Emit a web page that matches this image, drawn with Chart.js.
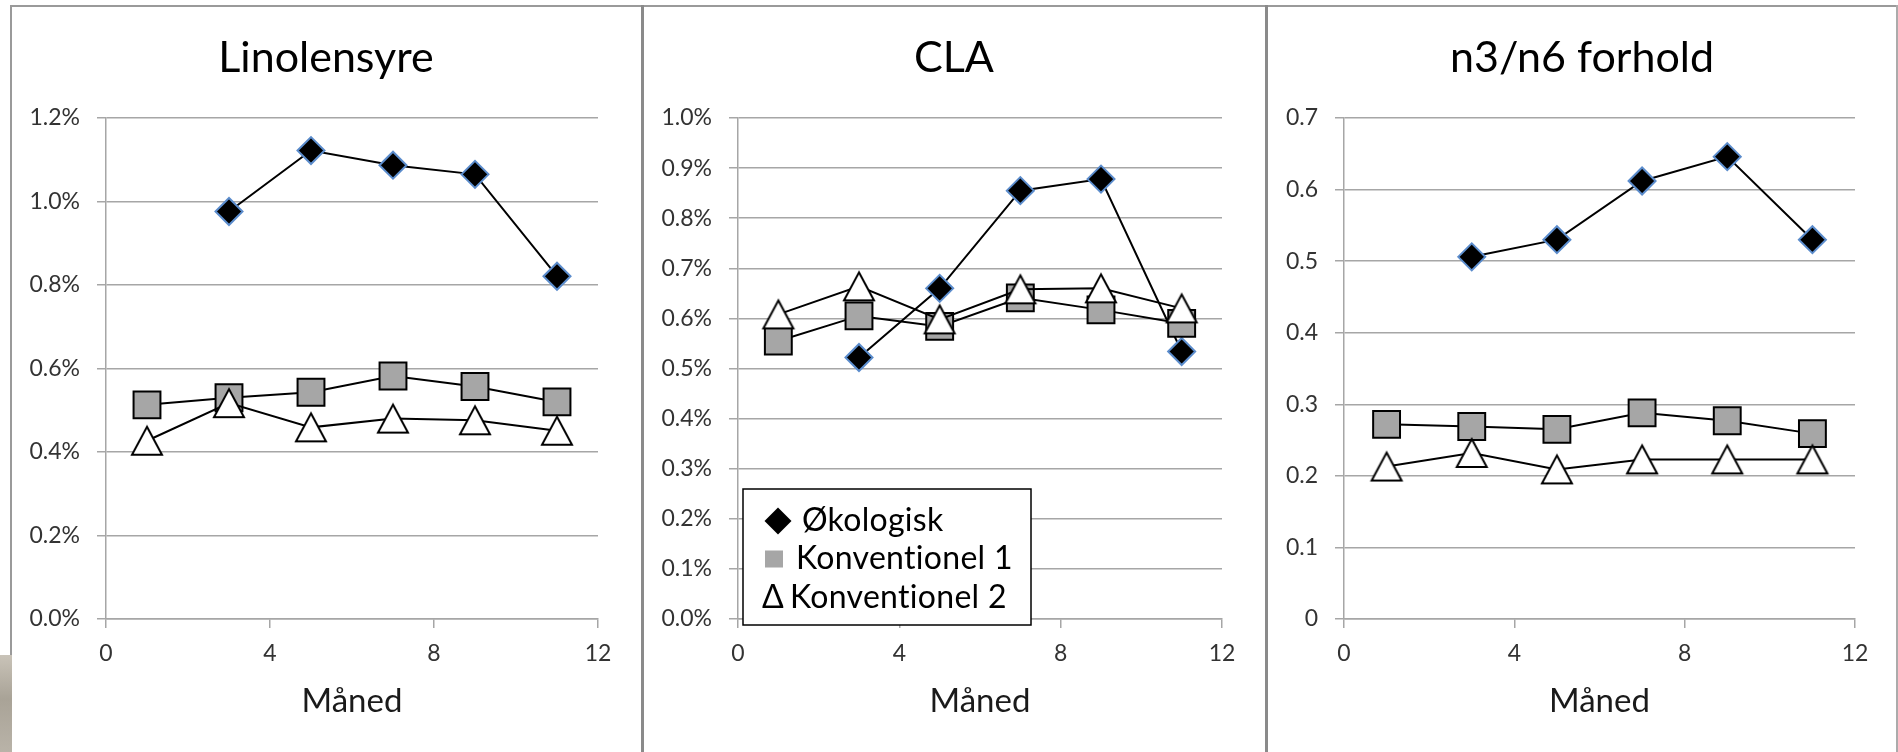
<!DOCTYPE html>
<html>
<head>
<meta charset="utf-8">
<title>Fedtsyrer i mælk</title>
<script src="https://cdn.jsdelivr.net/npm/chart.js@4.4.1/dist/chart.umd.min.js"></script>
<style>
  html, body { margin: 0; padding: 0; background: #fff; }
  body { width: 1898px; height: 752px; position: relative; overflow: hidden; }
  canvas { position: absolute; top: 0; }
  .rule { position: absolute; background: #9a9a9a; }
  .photo { position: absolute; left: 0; top: 655px; width: 12px; height: 97px;
           background: linear-gradient(180deg, #c9c3b8 0%, #a9a397 45%, #b9b3a8 100%); }
</style>
</head>
<body>
<!-- panel frames -->
<div class="rule" style="left:10px;top:5px;width:1888px;height:2px"></div>
<div class="rule" style="left:10px;top:5px;width:2px;height:650px"></div>
<div class="photo"></div>
<div class="rule" style="left:641px;top:5px;width:3px;height:747px;background:#8a8a8a"></div>
<div class="rule" style="left:1265px;top:5px;width:3px;height:747px;background:#8a8a8a"></div>
<div class="rule" style="left:1896px;top:5px;width:2px;height:747px;background:#ababab"></div>

<canvas id="c1" width="628" height="752" style="left:12px"></canvas>
<canvas id="c2" width="620" height="752" style="left:644px"></canvas>
<canvas id="c3" width="628" height="752" style="left:1268px"></canvas>

<script>
// Sampling months
const months = [1, 3, 5, 7, 9, 11];
const seriesNames = ['Økologisk', 'Konventionel 1', 'Konventionel 2'];
const panelTitles = ['Linolensyre', 'CLA', 'n3/n6 forhold'];
const axisTitle = 'Måned';

// Linolensyre, % of fat
const linolenOko   = [null, 0.976, 1.122, 1.087, 1.065, 0.821];
const linolenKonv1 = [0.513, 0.530, 0.543, 0.582, 0.557, 0.520];
const linolenKonv2 = [0.427, 0.517, 0.459, 0.480, 0.476, 0.451];

// CLA, % of fat
const claOko   = [null, 0.522, 0.660, 0.855, 0.878, 0.534];
const claKonv1 = [0.555, 0.605, 0.584, 0.641, 0.617, 0.590];
const claKonv2 = [0.608, 0.664, 0.598, 0.658, 0.660, 0.620];

// n3/n6 ratio
const ratioOko   = [null, 0.506, 0.530, 0.612, 0.646, 0.530];
const ratioKonv1 = [0.272, 0.269, 0.265, 0.288, 0.277, 0.259];
const ratioKonv2 = [0.213, 0.232, 0.209, 0.223, 0.223, 0.223];

// Value axis tick settings
const linolenTicks = { min: 0, max: 1.2, step: 0.2 };
const claTicks     = { min: 0, max: 1.0, step: 0.1 };
const ratioTicks   = { min: 0, max: 0.7, step: 0.1 };
const monthTicks   = { min: 0, max: 12, step: 4 };

const pct = v => v.toFixed(1) + '%';
const plain = v => (Math.abs(v) < 1e-9 ? '0' : v.toFixed(1));

const FONT = 'Lato, "Open Sans", sans-serif';
Chart.defaults.font.family = FONT;
Chart.defaults.animation = false;

const GRID = '#a6a6a6';

// Open triangle marker centred on its bounding box
function triangleMarker(w, h, lw) {
  const c = document.createElement('canvas');
  c.width = Math.ceil(w + 10);
  c.height = Math.ceil(h + 10);
  const ctx = c.getContext('2d');
  const cx = c.width / 2, cy = c.height / 2;
  ctx.beginPath();
  ctx.moveTo(cx, cy - h / 2);
  ctx.lineTo(cx + w / 2, cy + h / 2);
  ctx.lineTo(cx - w / 2, cy + h / 2);
  ctx.closePath();
  ctx.fillStyle = '#fff';
  ctx.fill();
  ctx.lineWidth = lw;
  ctx.lineJoin = 'miter';
  ctx.strokeStyle = '#000';
  ctx.stroke();
  return c;
}
const triImg = triangleMarker(30, 28, 2);

function points(vals) {
  return months.map((m, i) => ({ x: m, y: vals[i] }));
}

function datasets(oko, konv1, konv2) {
  return [
    {
      label: seriesNames[2], data: points(konv2), order: 0,
      borderColor: '#000', borderWidth: 2,
      pointStyle: triImg, pointRadius: 15,
      clip: false
    },
    {
      label: seriesNames[1], data: points(konv1), order: 1,
      borderColor: '#000', borderWidth: 2,
      pointStyle: 'rect', pointRadius: 19,
      pointBackgroundColor: '#a6a6a6', pointBorderColor: '#000', pointBorderWidth: 2,
      clip: false
    },
    {
      label: seriesNames[0], data: points(oko), order: 2,
      borderColor: '#000', borderWidth: 2,
      pointStyle: 'rectRot', pointRadius: 13.5,
      pointBackgroundColor: '#000', pointBorderColor: '#5b8ccc', pointBorderWidth: 2,
      clip: false
    }
  ];
}

// Panel heading, centred over the whole panel
const panelHeading = {
  id: 'panelHeading',
  afterDraw(chart, args, opts) {
    const ctx = chart.ctx;
    ctx.save();
    ctx.fillStyle = '#000';
    ctx.font = '43px ' + FONT;
    ctx.textAlign = 'center';
    ctx.textBaseline = 'middle';
    ctx.fillText(opts.text, chart.width / 2, 58);
    ctx.restore();
  }
};

// Boxed legend inside the CLA plot
const legendBox = {
  id: 'legendBox',
  afterDatasetsDraw(chart) {
    const ca = chart.chartArea, ctx = chart.ctx;
    const x0 = ca.left + 5, y0 = ca.bottom - 130, w = 288, h = 136;
    const rows = [y0 + 32, y0 + 70, y0 + 109];
    ctx.save();
    ctx.fillStyle = '#fff';
    ctx.fillRect(x0, y0, w, h);
    ctx.strokeStyle = '#000';
    ctx.lineWidth = 1.5;
    ctx.strokeRect(x0, y0, w, h);

    // symbols
    ctx.fillStyle = '#000';
    ctx.beginPath();
    const dx = x0 + 35, dy = rows[0], r = 13.5;
    ctx.moveTo(dx, dy - r); ctx.lineTo(dx + r, dy); ctx.lineTo(dx, dy + r); ctx.lineTo(dx - r, dy);
    ctx.closePath(); ctx.fill();
    ctx.fillStyle = '#a6a6a6';
    ctx.fillRect(x0 + 22, rows[1] - 8.5, 18, 17);

    ctx.fillStyle = '#000';
    ctx.font = '32px ' + FONT;
    ctx.letterSpacing = '0.3px';
    ctx.textBaseline = 'middle';
    ctx.textAlign = 'left';
    ctx.fillText('Δ', x0 + 19, rows[2]);
    ctx.fillText(seriesNames[0], x0 + 59, rows[0]);
    ctx.fillText(seriesNames[1], x0 + 53, rows[1]);
    ctx.fillText(seriesNames[2], x0 + 47, rows[2]);
    ctx.restore();
  }
};

function panel(id, title, sets, yt, fmt, yWidth, padL, padR, extraPlugins) {
  new Chart(document.getElementById(id), {
    type: 'line',
    data: { datasets: sets },
    options: {
      responsive: false,
      animation: false,
      events: [],
      layout: { padding: { left: padL, right: padR, top: 118, bottom: 0 } },
      plugins: {
        legend: { display: false },
        tooltip: { enabled: false },
        title: { display: false },
        panelHeading: { text: title }
      },
      scales: {
        x: {
          type: 'linear', min: monthTicks.min, max: monthTicks.max,
          ticks: { stepSize: monthTicks.step, padding: 12, color: '#333', font: { size: 23 }, maxRotation: 0 },
          grid: { drawOnChartArea: false, drawTicks: true, tickLength: 9, color: GRID, lineWidth: 1.5 },
          border: { display: true, color: GRID, width: 1.5 },
          title: { display: true, text: axisTitle, color: '#1a1a1a', font: { size: 33 }, padding: { top: 0, bottom: 31 } },
          afterFit: s => { s.height = 133; }
        },
        y: {
          min: yt.min, max: yt.max,
          ticks: { stepSize: yt.step, padding: 17, color: '#333', font: { size: 23 }, callback: fmt },
          grid: { color: GRID, lineWidth: 1.5, tickLength: 9, drawTicks: true },
          border: { display: true, color: GRID, width: 1.5 },
          afterFit: s => { s.width = yWidth; }
        }
      }
    },
    plugins: [panelHeading].concat(extraPlugins || [])
  });
}

panel('c1', panelTitles[0], datasets(linolenOko, linolenKonv1, linolenKonv2), linolenTicks, pct, 80, 14, 42);
panel('c2', panelTitles[1], datasets(claOko, claKonv1, claKonv2), claTicks, pct, 80, 14, 42, [legendBox]);
panel('c3', panelTitles[2], datasets(ratioOko, ratioKonv1, ratioKonv2), ratioTicks, plain, 62, 14, 41);
</script>
</body>
</html>
